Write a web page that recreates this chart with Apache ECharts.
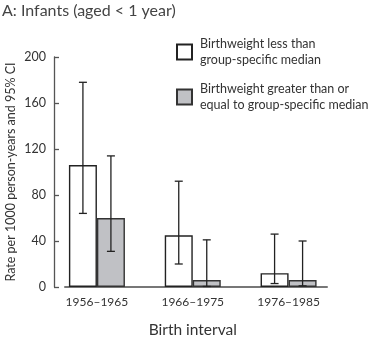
<!DOCTYPE html>
<html>
<head>
<meta charset="utf-8">
<script src="https://cdn.jsdelivr.net/npm/echarts@6/dist/echarts.min.js"></script>
<style>
  html, body { margin: 0; padding: 0; background: #fff; }
  #chart { width: 380px; height: 339px; }
</style>
</head>
<body>
<div id="chart"></div>
<script>
// Infant mortality rate by birth interval, split by birthweight group
const categories = ['1956–1965', '1966–1975', '1976–1985'];
const seriesNames = [
  'Birthweight less than\ngroup-specific median',
  'Birthweight greater than or\nequal to group-specific median'
];
const lowWeightRate = [106, 45, 12];
const lowWeightLower = [64, 20, 3];
const lowWeightUpper = [178, 92, 46];
const highWeightRate = [60, 6, 6];
const highWeightLower = [31, 0.5, 1];
const highWeightUpper = [114, 41, 40];
const yTicks = [0, 40, 80, 120, 160, 200];

const FONT = 'Lato';
const BAR_W = 28;

function errorBars(lower, upper, side) {
  const data = categories.map((c, i) => [i, lower[i], upper[i]]);
  return {
    type: 'custom',
    xAxisIndex: 0,
    yAxisIndex: 0,
    z: 5,
    silent: true,
    data: data,
    renderItem: function (params, api) {
      const idx = api.value(0);
      const lo = api.coord([idx, api.value(1)]);
      const hi = api.coord([idx, api.value(2)]);
      const x = lo[0] + side * BAR_W / 2;
      const cap = 4;
      const style = { stroke: '#222', lineWidth: 1.3 };
      return {
        type: 'group',
        children: [
          { type: 'line', shape: { x1: x, y1: hi[1], x2: x, y2: lo[1] }, style: style },
          { type: 'line', shape: { x1: x - cap, y1: hi[1], x2: x + cap, y2: hi[1] }, style: style },
          { type: 'line', shape: { x1: x - cap, y1: lo[1], x2: x + cap, y2: lo[1] }, style: style }
        ]
      };
    }
  };
}

const gridBase = { top: 57, bottom: 52, outerBoundsMode: 'none', containLabel: false };

const chart = echarts.init(document.getElementById('chart'));
chart.setOption({
  animation: false,
  backgroundColor: '#fff',
  textStyle: { fontFamily: FONT },
  title: {
    text: 'A: Infants (aged < 1 year)',
    left: 2,
    top: 3,
    padding: 0,
    textStyle: { fontFamily: FONT, fontSize: 16, fontWeight: 'normal', color: '#444' }
  },
  legend: {
    orient: 'vertical',
    left: 176,
    top: 36,
    padding: 0,
    itemWidth: 15,
    itemHeight: 15,
    itemGap: 13,
    icon: 'rect',
    selectedMode: false,
    data: seriesNames,
    textStyle: { fontFamily: FONT, fontSize: 12.5, color: '#333', lineHeight: 16, padding: [0, 0, 0, 3] }
  },
  grid: [
    // bars and error bars
    Object.assign({ left: 49, right: 43.5 }, gridBase),
    // left value axis
    Object.assign({ left: 54, right: 53 }, gridBase),
    // baseline
    Object.assign({ left: 65, right: 53 }, gridBase)
  ],
  xAxis: [
    {
      gridIndex: 0,
      type: 'category',
      data: categories,
      axisLine: { show: false },
      axisTick: { show: false },
      axisLabel: { margin: 9, fontFamily: FONT, fontSize: 12, color: '#333' },
      name: 'Birth interval',
      nameLocation: 'middle',
      nameGap: 35,
      nameTextStyle: { fontFamily: FONT, fontSize: 15.5, color: '#333' }
    },
    { gridIndex: 1, type: 'value', show: false },
    {
      gridIndex: 2,
      type: 'value',
      axisLine: { show: true, lineStyle: { color: '#777', width: 2 } },
      axisTick: { show: false },
      axisLabel: { show: false },
      splitLine: { show: false }
    }
  ],
  yAxis: [
    { gridIndex: 0, type: 'value', min: 0, max: 200, show: false },
    {
      gridIndex: 1,
      type: 'value',
      min: yTicks[0],
      max: yTicks[yTicks.length - 1],
      interval: 40,
      axisLine: { show: true, lineStyle: { color: '#555', width: 1.3 } },
      axisTick: { show: true, inside: true, length: 5, lineStyle: { color: '#555', width: 1.3 } },
      axisLabel: { margin: 8, fontFamily: FONT, fontSize: 12.5, color: '#333' },
      splitLine: { show: false },
      name: 'Rate per 1000 person-years and 95% CI',
      nameLocation: 'middle',
      nameGap: 37,
      nameMoveOverlap: false,
      nameTextStyle: { fontFamily: FONT, fontSize: 12.5, color: '#333' }
    },
    { gridIndex: 2, type: 'value', min: 0, max: 200, show: false }
  ],
  series: [
    {
      name: seriesNames[0],
      type: 'bar',
      xAxisIndex: 0,
      yAxisIndex: 0,
      barWidth: BAR_W,
      barGap: '0%',
      data: lowWeightRate,
      itemStyle: { color: '#ffffff', borderColor: '#222', borderWidth: 1.4 }
    },
    {
      name: seriesNames[1],
      type: 'bar',
      xAxisIndex: 0,
      yAxisIndex: 0,
      barWidth: BAR_W,
      barGap: '0%',
      data: highWeightRate,
      itemStyle: { color: '#c0c1c5', borderColor: '#333', borderWidth: 1.4 }
    },
    errorBars(lowWeightLower, lowWeightUpper, -1),
    errorBars(highWeightLower, highWeightUpper, 1)
  ]
});
</script>
</body>
</html>
